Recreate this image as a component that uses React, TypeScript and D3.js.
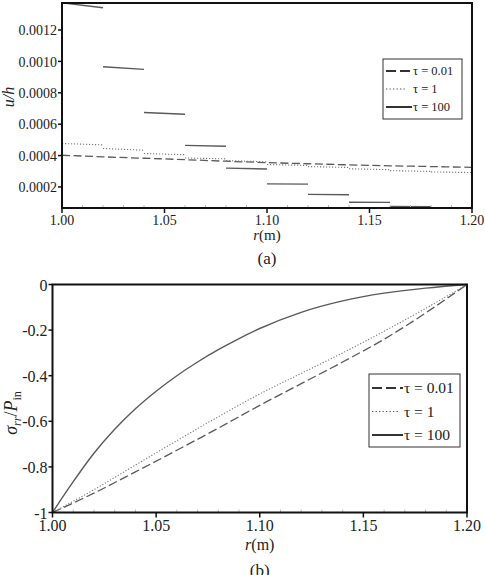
import { useEffect, useRef } from "react";
import * as d3 from "d3";

// r (m) at the step boundaries of the layered solution
const rSteps = [1.0, 1.02, 1.04, 1.06, 1.08, 1.1, 1.12, 1.14, 1.16, 1.18, 1.2];

// (a) u/h — τ = 100 and τ = 1 are stepwise: value at start / end of each step
const uTau100Start = [0.001373, 0.000966, 0.000674, 0.000465, 0.00032, 0.00022, 0.000153, 0.000103, 0.000076, 0.000062];
const uTau100End = [0.001342, 0.000949, 0.000663, 0.000459, 0.000314, 0.000218, 0.00015, 0.000102, 0.000075, 0.00006];
const uTau1Start = [0.000477, 0.000445, 0.000413, 0.000385, 0.000368, 0.000343, 0.00033, 0.000316, 0.000304, 0.000296];
const uTau1End = [0.000468, 0.000434, 0.000406, 0.000379, 0.00036, 0.000337, 0.000324, 0.00031, 0.000299, 0.000292];
// τ = 0.01 is continuous, sampled at rSteps
const uTau001 = [0.000402, 0.000392, 0.000383, 0.000374, 0.000364, 0.000355, 0.000348, 0.000341, 0.000335, 0.00033, 0.000325];

// (b) σrr/Pin
const rStress = [1.0, 1.01, 1.02, 1.03, 1.04, 1.05, 1.06, 1.07, 1.08, 1.09, 1.1, 1.12, 1.14, 1.16, 1.18, 1.2];
const sTau100 = [-1, -0.865, -0.74, -0.635, -0.545, -0.468, -0.4, -0.34, -0.286, -0.237, -0.193, -0.122, -0.072, -0.038, -0.016, 0];
const sTau1 = [-1, -0.9, -0.792, -0.685, -0.58, -0.48, -0.39, -0.3, -0.205, -0.105, 0];
const sTau001 = [-1, -0.915, -0.822, -0.727, -0.63, -0.53, -0.435, -0.34, -0.24, -0.125, 0];

const xTicks = [1.0, 1.05, 1.1, 1.15, 1.2];
const xMinorTicks = d3.range(1.01, 1.2, 0.01);
const uTicks = [0.0002, 0.0004, 0.0006, 0.0008, 0.001, 0.0012];
const sTicks = [0, -0.2, -0.4, -0.6, -0.8, -1];
const legendLabels = ["τ = 0.01", "τ = 1", "τ = 100"];

const FONT = "'Liberation Serif', 'Times New Roman', serif";
const LINE = "#5a5a5a";
const DASH = "8,3.5";
const DOT = "1.2,1.8";

type Panel = {
  left: number;
  right: number;
  top: number;
  bottom: number;
  yDomain: [number, number];
  tickSize: number;
};

function drawFrame(
  g: d3.Selection<SVGGElement, unknown, null, undefined>,
  p: Panel,
  x: d3.ScaleLinear<number, number>,
  y: d3.ScaleLinear<number, number>,
  yTicks: number[],
  yFmt: (v: number) => string
) {
  // minor ticks along r, pointing inward
  g.append("g")
    .selectAll("line")
    .data(xMinorTicks.filter((t) => xTicks.every((m) => Math.abs(m - t) > 1e-6)))
    .join("line")
    .attr("x1", (d) => x(d))
    .attr("x2", (d) => x(d))
    .attr("y1", p.bottom)
    .attr("y2", p.bottom - 3)
    .attr("stroke", "#bbb")
    .attr("stroke-width", 1);

  g.append("rect")
    .attr("x", p.left)
    .attr("y", p.top)
    .attr("width", p.right - p.left)
    .attr("height", p.bottom - p.top)
    .attr("fill", "none")
    .attr("stroke", "#111")
    .attr("stroke-width", 2);

  // x ticks + labels
  const xt = g.append("g").selectAll("g").data(xTicks).join("g");
  xt.append("line")
    .attr("x1", (d) => x(d))
    .attr("x2", (d) => x(d))
    .attr("y1", p.bottom)
    .attr("y2", p.bottom + 5)
    .attr("stroke", "#111")
    .attr("stroke-width", 1.5);
  xt.append("text")
    .attr("x", (d) => x(d))
    .attr("y", p.bottom + 4 + p.tickSize * 0.9)
    .attr("text-anchor", "middle")
    .style("font-family", FONT)
    .style("font-size", `${p.tickSize}px`)
    .style("fill", "#222")
    .text((d) => d3.format(".2f")(d));

  // y ticks + labels
  const yt = g.append("g").selectAll("g").data(yTicks).join("g");
  yt.append("line")
    .attr("x1", p.left - 4)
    .attr("x2", p.left)
    .attr("y1", (d) => y(d))
    .attr("y2", (d) => y(d))
    .attr("stroke", "#111")
    .attr("stroke-width", 1.5);
  yt.append("text")
    .attr("x", p.left - 5)
    .attr("y", (d) => y(d))
    .attr("dy", "0.38em")
    .attr("text-anchor", "end")
    .style("font-family", FONT)
    .style("font-size", `${p.tickSize}px`)
    .style("fill", "#222")
    .text((d) => yFmt(d));
}

function drawLegend(
  g: d3.Selection<SVGGElement, unknown, null, undefined>,
  box: { x: number; y: number; w: number; h: number },
  rowY: number[],
  lineLen: number,
  fontSize: number
) {
  g.append("rect")
    .attr("x", box.x)
    .attr("y", box.y)
    .attr("width", box.w)
    .attr("height", box.h)
    .attr("fill", "white")
    .attr("stroke", "#333")
    .attr("stroke-width", 1);
  const styles = [
    { dash: "10,4", w: 2 },
    { dash: "1.3,2.2", w: 1.2 },
    { dash: null, w: 2 },
  ];
  legendLabels.forEach((lab, i) => {
    const x0 = box.x + 3;
    g.append("line")
      .attr("x1", x0)
      .attr("x2", i === 1 ? x0 + lineLen - 5 : x0 + lineLen)
      .attr("y1", rowY[i])
      .attr("y2", rowY[i])
      .attr("stroke", i === 1 ? "#555" : "#333")
      .attr("stroke-width", styles[i].w)
      .attr("stroke-dasharray", styles[i].dash);
    g.append("text")
      .attr("x", x0 + lineLen + 1)
      .attr("y", rowY[i])
      .attr("dy", "0.35em")
      .style("font-family", FONT)
      .style("font-size", `${fontSize}px`)
      .style("fill", "#222")
      .text(lab);
  });
}

export default function App() {
  const svgRef = useRef<SVGSVGElement>(null);

  useEffect(() => {
    if (!svgRef.current) return;
    const svg = d3.select(svgRef.current);
    svg.selectAll("*").remove();

    // ---------- (a) displacement ----------
    const pa: Panel = { left: 62, right: 472, top: 3, bottom: 208, yDomain: [0.000066, 0.001372], tickSize: 14 };
    const xa = d3.scaleLinear().domain([1.0, 1.2]).range([pa.left, pa.right]);
    const ya = d3.scaleLinear().domain(pa.yDomain).range([pa.bottom, pa.top]);
    const ga = svg.append("g");

    ga.append("clipPath")
      .attr("id", "clip-a")
      .append("rect")
      .attr("x", pa.left)
      .attr("y", pa.top)
      .attr("width", pa.right - pa.left)
      .attr("height", pa.bottom - pa.top);
    const plotA = ga.append("g").attr("clip-path", "url(#clip-a)");

    const lineA = d3
      .line<number>()
      .x((_, i) => xa(rSteps[i]))
      .y((d) => ya(d))
      .curve(d3.curveMonotoneX);
    plotA
      .append("path")
      .attr("d", lineA(uTau001))
      .attr("fill", "none")
      .attr("stroke", LINE)
      .attr("stroke-width", 1.3)
      .attr("stroke-dasharray", DASH);

    const steps = (start: number[], end: number[]) =>
      start.map((s, i) => ({ x1: rSteps[i], x2: rSteps[i + 1], y1: s, y2: end[i] }));

    plotA
      .append("g")
      .selectAll("line")
      .data(steps(uTau1Start, uTau1End))
      .join("line")
      .attr("x1", (d) => xa(d.x1))
      .attr("x2", (d) => xa(d.x2))
      .attr("y1", (d) => ya(d.y1))
      .attr("y2", (d) => ya(d.y2))
      .attr("stroke", "#777")
      .attr("stroke-width", 1.1)
      .attr("stroke-dasharray", DOT);

    plotA
      .append("g")
      .selectAll("line")
      .data(steps(uTau100Start, uTau100End))
      .join("line")
      .attr("x1", (d) => xa(d.x1))
      .attr("x2", (d) => xa(d.x2))
      .attr("y1", (d) => ya(d.y1))
      .attr("y2", (d) => ya(d.y2))
      .attr("stroke", LINE)
      .attr("stroke-width", 1.4);

    drawFrame(ga, pa, xa, ya, uTicks, (v) => d3.format(".4f")(v));
    drawLegend(ga, { x: 383, y: 59, w: 79, h: 60 }, [71, 89, 107], 26, 12.5);

    ga.append("text")
      .attr("transform", "translate(14,97) rotate(-90)")
      .attr("text-anchor", "middle")
      .style("font-family", FONT)
      .style("font-size", "16px")
      .style("font-style", "italic")
      .style("fill", "#222")
      .text("u/h");

    const ra = ga
      .append("text")
      .attr("x", xa(1.1))
      .attr("y", 240)
      .attr("text-anchor", "middle")
      .style("font-family", FONT)
      .style("font-size", "15px")
      .style("fill", "#222");
    ra.append("tspan").style("font-style", "italic").text("r");
    ra.append("tspan").text("(m)");

    ga.append("text")
      .attr("x", xa(1.1))
      .attr("y", 264)
      .attr("text-anchor", "middle")
      .style("font-family", FONT)
      .style("font-size", "17px")
      .style("fill", "#222")
      .text("(a)");

    // ---------- (b) radial stress ----------
    const pb: Panel = { left: 52.5, right: 467, top: 284.5, bottom: 512.5, yDomain: [-1, 0], tickSize: 16 };
    const xb = d3.scaleLinear().domain([1.0, 1.2]).range([pb.left, pb.right]);
    const yb = d3.scaleLinear().domain(pb.yDomain).range([pb.bottom, pb.top]);
    const gb = svg.append("g");

    const lineB = (rs: number[]) =>
      d3
        .line<number>()
        .x((_, i) => xb(rs[i]))
        .y((d) => yb(d))
        .curve(d3.curveMonotoneX);

    gb.append("path")
      .attr("d", lineB(rSteps)(sTau001))
      .attr("fill", "none")
      .attr("stroke", LINE)
      .attr("stroke-width", 1.3)
      .attr("stroke-dasharray", "9,3.5");
    gb.append("path")
      .attr("d", lineB(rSteps)(sTau1))
      .attr("fill", "none")
      .attr("stroke", "#777")
      .attr("stroke-width", 1.1)
      .attr("stroke-dasharray", DOT);
    gb.append("path")
      .attr("d", lineB(rStress)(sTau100))
      .attr("fill", "none")
      .attr("stroke", LINE)
      .attr("stroke-width", 1.4);

    drawFrame(gb, pb, xb, yb, sTicks, (v) => (v === 0 ? "0" : v === -1 ? "-1" : d3.format(".1f")(v).replace("−", "-")));
    drawLegend(gb, { x: 369, y: 374, w: 91, h: 73 }, [388, 411.5, 435], 31, 15.5);

    const yl = gb
      .append("text")
      .attr("transform", "translate(17,413) rotate(-90)")
      .attr("text-anchor", "middle")
      .style("font-family", FONT)
      .style("font-size", "18px")
      .style("fill", "#222");
    yl.append("tspan").style("font-style", "italic").text("σ");
    yl.append("tspan").attr("dy", 4).style("font-size", "12px").style("font-style", "italic").text("rr");
    yl.append("tspan").attr("dy", -4).text("/");
    yl.append("tspan").style("font-style", "italic").text("P");
    yl.append("tspan").attr("dy", 4).style("font-size", "12px").text("in");

    const rb = gb
      .append("text")
      .attr("x", xb(1.1))
      .attr("y", 550)
      .attr("text-anchor", "middle")
      .style("font-family", FONT)
      .style("font-size", "16px")
      .style("fill", "#222");
    rb.append("tspan").style("font-style", "italic").text("r");
    rb.append("tspan").text("(m)");

    gb.append("text")
      .attr("x", xb(1.1))
      .attr("y", 576)
      .attr("text-anchor", "middle")
      .style("font-family", FONT)
      .style("font-size", "17px")
      .style("fill", "#222")
      .text("(b)");
  }, []);

  return (
    <svg
      ref={svgRef}
      width={485}
      height={575}
      style={{ position: "absolute", left: 0, top: 0, background: "white" }}
    />
  );
}
